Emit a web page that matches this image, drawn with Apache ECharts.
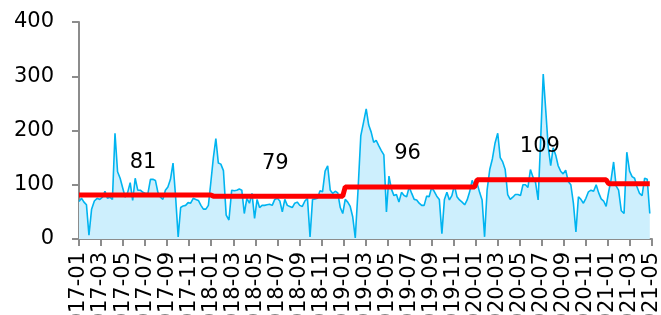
<!DOCTYPE html>
<html>
<head>
<meta charset="utf-8">
<script src="https://cdn.jsdelivr.net/npm/echarts@6/dist/echarts.min.js"></script>
<style>
	html, body { margin: 0; padding: 0; background: #fff; }
	#chart { width: 661px; height: 315px; }
</style>
</head>
<body>
<div id="chart"></div>
<script>
// weekly readings, first week starts 2017-01-01
const startDate = '2017-01-01'
const weeklyValues = [
	// 2017
	69, 75, 68, 63, 7, 55, 70, 75, 73, 77, 88, 75, 77, 73, 195, 124, 112, 94, 77, 86,
	104, 71, 112, 90, 90, 86, 84, 84, 110, 110, 108, 86, 77, 73, 90, 96, 110, 140, 78, 4,
	58, 61, 62, 67, 66, 75, 73, 71, 62, 55, 55, 62, 105,
	// 2018
	150, 185, 140, 138, 126, 44, 35, 90, 89, 90, 92, 90, 47, 75, 66, 84, 38, 73, 58, 62,
	62, 63, 64, 62, 73, 75, 70, 50, 73, 62, 60, 58, 66, 68, 62, 60, 70, 75, 4, 73,
	74, 75, 89, 87, 125, 135, 90, 84, 88, 85, 58, 47,
	// 2019
	73, 68, 60, 41, 2, 90, 190, 215, 240, 210, 197, 178, 182, 172, 163, 155, 50, 116, 92, 80,
	82, 68, 86, 80, 78, 96, 84, 73, 72, 66, 62, 62, 79, 78, 95, 88, 79, 73, 10, 73,
	86, 72, 80, 99, 78, 72, 68, 63, 72, 87, 108, 97,
	// 2020
	103, 86, 72, 4, 90, 128, 148, 177, 195, 150, 142, 128, 82, 73, 77, 82, 82, 80, 100, 100,
	95, 128, 114, 104, 72, 185, 304, 238, 170, 135, 168, 155, 135, 125, 120, 127, 106, 100, 66, 13,
	78, 73, 66, 75, 87, 90, 88, 100, 85, 74, 70, 60,
	// 2021
	87, 110, 142, 98, 90, 52, 47, 160, 125, 115, 112, 96, 84, 80, 112, 110, 47
]
const years = [2017, 2018, 2019, 2020, 2021]
const yearAvg = [81, 79, 96, 109, 102]
const labelYears = [2017, 2018, 2019, 2020]
const yTicks = [0, 100, 200, 300, 400]

const baseYear = years[0]
// month index (0 = 2017-01) of a date, fractional inside the month
const monthIndex = (d) => {
	const y = d.getUTCFullYear(), m = d.getUTCMonth()
	const dim = new Date(Date.UTC(y, m + 1, 0)).getUTCDate()
	return (y - baseYear) * 12 + m + (d.getUTCDate() - 1) / dim
}
const t0 = new Date(startDate + 'T00:00:00Z').getTime()
const weekDates = weeklyValues.map((v, i) => new Date(t0 + i * 7 * 86400000))

const areaData = weeklyValues.map((v, i) => [monthIndex(weekDates[i]), v])
const avgData = weeklyValues.map((v, i) => {
	const yi = years.indexOf(weekDates[i].getUTCFullYear())
	return [monthIndex(weekDates[i]), yearAvg[yi]]
})
const labelData = labelYears.map(y => {
	const yi = years.indexOf(y)
	return [(y - baseYear) * 12 + 6, yearAvg[yi]]
})

const axisColor = '#8c8c8c'
const fontFamily = 'DejaVu Sans'

const chart = echarts.init(document.getElementById('chart'))
chart.setOption({
	animation: false,
	grid: { left: 79, right: 9, top: 22, bottom: 76, containLabel: false, outerBoundsMode: 'none' },
	xAxis: {
		type: 'value',
		min: 0,
		max: 52,
		interval: 2,
		splitLine: { show: false },
		axisLine: { show: true, lineStyle: { color: axisColor, width: 2 } },
		axisTick: { show: true, length: 7, lineStyle: { color: axisColor, width: 2 } },
		axisLabel: {
			rotate: 90,
			hideOverlap: false,
			margin: 13,
			color: '#000',
			fontSize: 21,
			fontFamily: fontFamily,
			showMinLabel: true,
			showMaxLabel: true,
			formatter: (v) => {
				const y = baseYear + Math.floor(v / 12)
				const m = (v % 12) + 1
				return y + '-' + (m < 10 ? '0' + m : m)
			}
		}
	},
	yAxis: {
		type: 'value',
		min: yTicks[0],
		max: yTicks[yTicks.length - 1],
		interval: 100,
		splitLine: { show: false },
		axisLine: { show: true, lineStyle: { color: axisColor, width: 2 } },
		axisTick: { show: true, length: 7, lineStyle: { color: axisColor, width: 2 } },
		axisLabel: { margin: 25, color: '#000', fontSize: 21, fontFamily: fontFamily }
	},
	series: [
		{
			type: 'line',
			data: areaData,
			symbol: 'none',
			lineStyle: { color: '#00b4f0', width: 1.6 },
			areaStyle: { color: '#cdeffd', opacity: 1 },
			z: 2
		},
		{
			type: 'line',
			data: avgData,
			symbol: 'none',
			lineStyle: { color: '#ff0000', width: 5 },
			z: 3
		},
		{
			type: 'scatter',
			data: labelData,
			symbolSize: 0,
			itemStyle: { opacity: 1, color: 'transparent' },
			label: {
				show: true,
				position: 'inside',
				offset: [-2, -33],
				color: '#000',
				opacity: 1,
				textBorderWidth: 0,
				fontSize: 21,
				fontFamily: fontFamily,
				formatter: (p) => String(p.value[1])
			},
			emphasis: { disabled: true },
			z: 4
		}
	]
})
</script>
</body>
</html>
